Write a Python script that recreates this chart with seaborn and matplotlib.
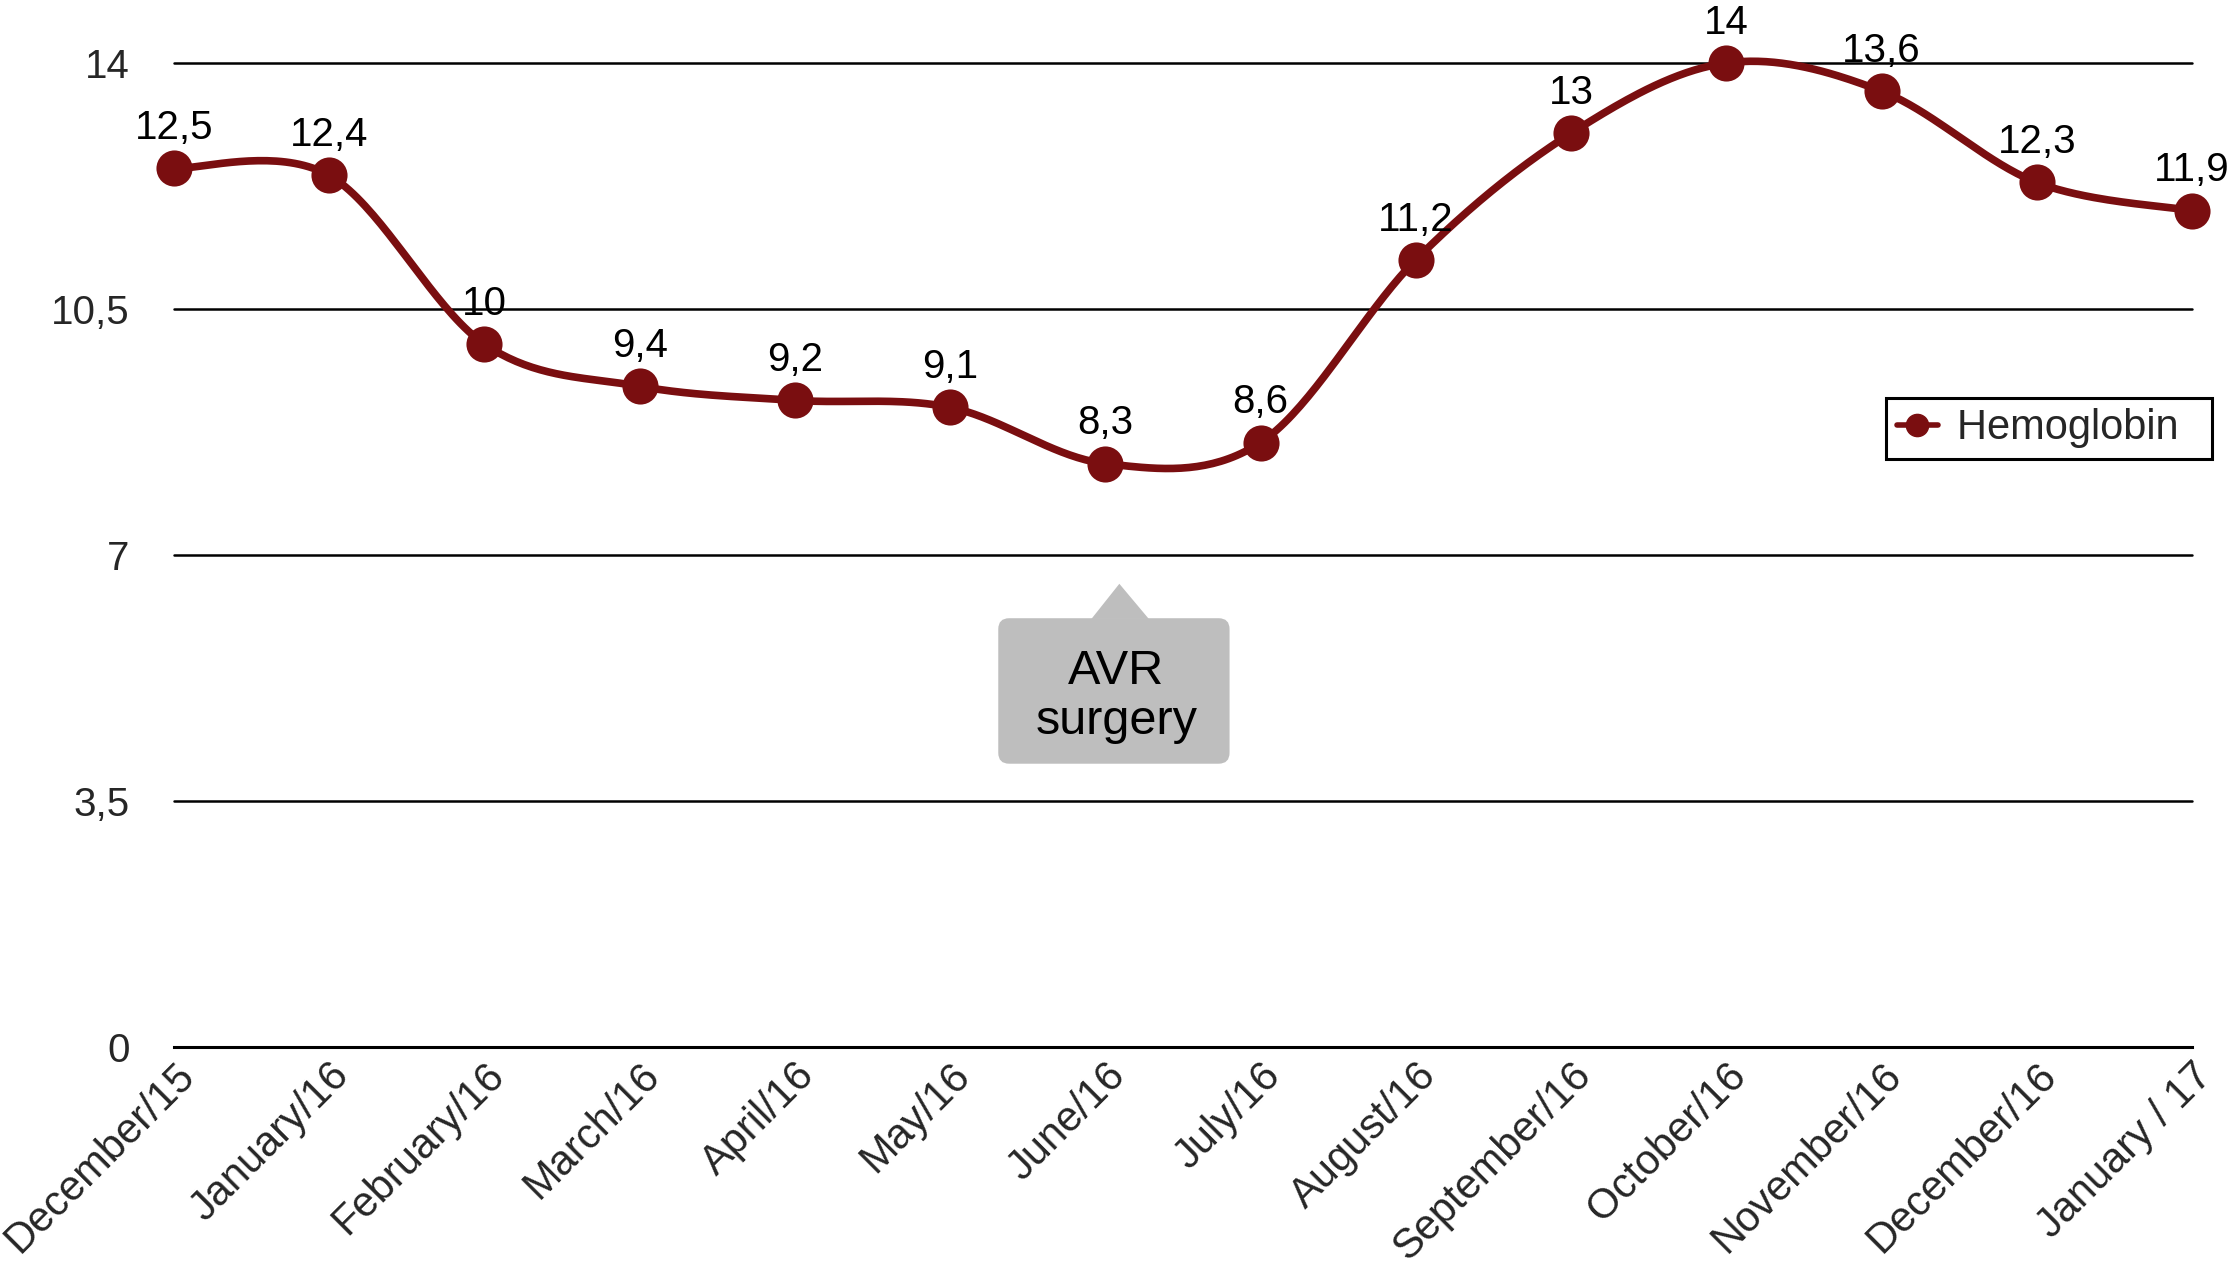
import numpy as np
import pandas as pd
import matplotlib
matplotlib.use("Agg")
import matplotlib.pyplot as plt
import seaborn as sns
from matplotlib.patches import FancyBboxPatch, Polygon
from matplotlib.lines import Line2D

# ---------------- data ----------------
months = ["December/15", "January/16", "February/16", "March/16", "April/16",
          "May/16", "June/16", "July/16", "August/16", "September/16",
          "October/16", "November/16", "December/16", "January / 17"]
hemoglobin = [12.5, 12.4, 10.0, 9.4, 9.2, 9.1, 8.3, 8.6, 11.2, 13.0, 14.0, 13.6, 12.3, 11.9]
value_labels = ["12,5", "12,4", "10", "9,4", "9,2", "9,1", "8,3", "8,6", "11,2",
                "13", "14", "13,6", "12,3", "11,9"]
y_ticks = [0, 3.5, 7, 10.5, 14]
y_tick_labels = ["0", "3,5", "7", "10,5", "14"]
series_name = "Hemoglobin"
callout_text = "AVR\nsurgery"

# ---------------- style ----------------
sns.set_style("white")
plt.rcParams["font.family"] = ["Liberation Sans", "DejaVu Sans"]
color = "#7a0e10"

df = pd.DataFrame({"month": months, "idx": np.arange(len(months)), "hb": hemoglobin})

# smoothed (Excel-like) curve through the data points
def smooth_curve(xs, ys, n=40):
    P = np.column_stack([xs, ys]).astype(float)
    Pe = np.vstack([P[0], P, P[-1]])
    out = []
    t = np.linspace(0, 1, n)[:, None]
    for i in range(len(P) - 1):
        p0, p1, p2, p3 = Pe[i], Pe[i + 1], Pe[i + 2], Pe[i + 3]
        c1 = p1 + (p2 - p0) / 6.0
        c2 = p2 - (p3 - p1) / 6.0
        seg = ((1 - t) ** 3) * p1 + 3 * ((1 - t) ** 2) * t * c1 + 3 * (1 - t) * t ** 2 * c2 + t ** 3 * p2
        out.append(seg if i == 0 else seg[1:])
    return np.vstack(out)

curve = smooth_curve(df["idx"].values, df["hb"].values)
curve_df = pd.DataFrame({"x": curve[:, 0], "y": curve[:, 1]})

fig = plt.figure(figsize=(22.31, 12.78), dpi=100)
ax = fig.add_axes([0.078, 0.1808, 0.9045, 0.7699])

# gridlines
for yv in y_ticks[1:]:
    ax.axhline(yv, color="black", lw=1.8, zorder=1, clip_on=False)

sns.lineplot(data=curve_df, x="x", y="y", sort=False, estimator=None, ax=ax,
             color=color, lw=5.5, zorder=3, clip_on=False)
sns.scatterplot(data=df, x="idx", y="hb", ax=ax, color=color, s=26 ** 2,
                edgecolor=color, linewidth=0, zorder=4, clip_on=False, legend=False)

for i, (v, lbl) in enumerate(zip(hemoglobin, value_labels)):
    ax.annotate(lbl, (i, v), xytext=(0, 29), textcoords="offset points",
                ha="center", va="center", fontsize=29, color="black",
                annotation_clip=False, zorder=5)

# callout
gray = "#bebebe"
box = FancyBboxPatch((5.31, 4.03), 1.49, 2.07,
                     boxstyle="round,pad=0,rounding_size=0.07",
                     mutation_aspect=2.2, facecolor=gray, edgecolor="none", zorder=2)
ax.add_patch(box)
ax.add_patch(Polygon([(5.91, 6.09), (6.09, 6.59), (6.28, 6.09)], closed=True,
                     facecolor=gray, edgecolor="none", zorder=2))
ax.text(6.07, 4.99, callout_text, ha="center", va="center", fontsize=35,
        linespacing=1.15, zorder=3, color="black")

ax.set_xlim(0, len(months) - 1)
ax.set_ylim(0, 14)
ax.set_xticks(df["idx"])
ax.set_xticklabels(months, rotation=45, ha="right", va="top",
                   rotation_mode="anchor", fontsize=30)
ax.set_yticks(y_ticks)
ax.set_yticklabels(y_tick_labels, fontsize=29)
ax.set_xlabel("")
ax.set_ylabel("")

for s in ["top", "right", "left"]:
    ax.spines[s].set_visible(False)
ax.spines["bottom"].set_linewidth(2.2)
ax.spines["bottom"].set_color("black")
ax.tick_params(axis="x", direction="in", length=9, width=1.6, color="black", pad=6)
ax.tick_params(axis="y", length=0, pad=32)

handle = Line2D([], [], color=color, marker="o", lw=4, markersize=16)
leg = fig.legend(handles=[handle], labels=[series_name + "  "], loc="center",
                 bbox_to_anchor=(0.9185, 0.665), frameon=True, fancybox=False,
                 edgecolor="black", handlelength=1.0, fontsize=30,
                 borderpad=0.25, handletextpad=0.45, borderaxespad=0)
leg.get_frame().set_linewidth(2.2)
leg.get_frame().set_alpha(1)

fig.savefig("out.png", dpi=100, facecolor="white")
